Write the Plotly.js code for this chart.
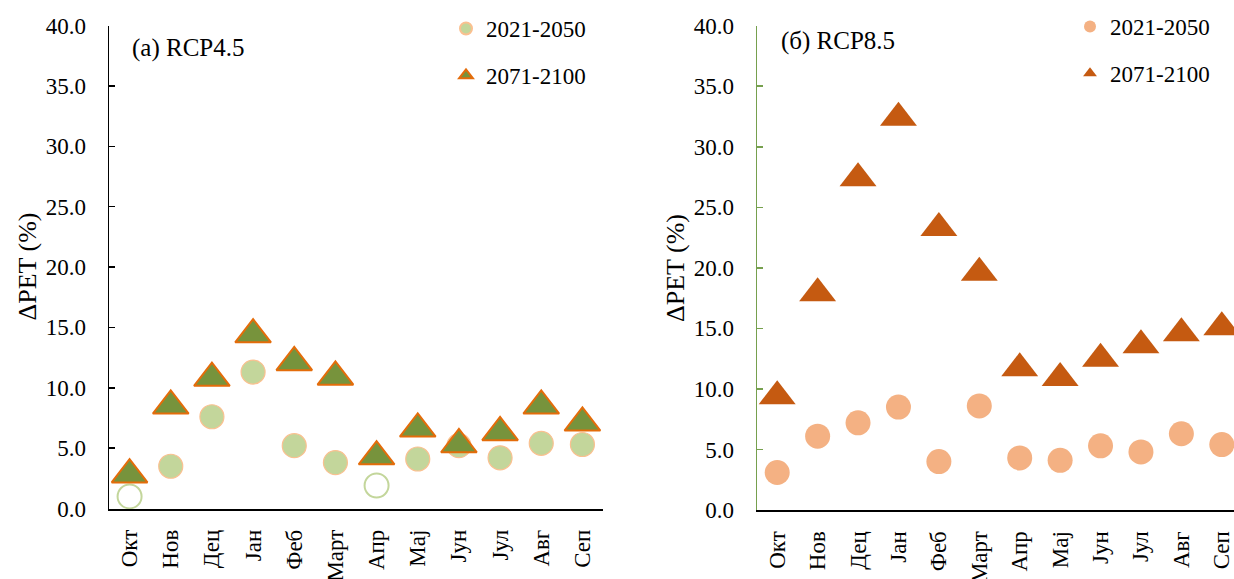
<!DOCTYPE html>
<html>
<head>
<meta charset="utf-8">
<script src="https://cdn.plot.ly/plotly-3.0.1.min.js"></script>
<style>
html, body { margin: 0; padding: 0; overflow: hidden; background: #fff; }
#chart { width: 1245px; height: 579px; }
</style>
</head>
<body>
<div id="chart"></div>
<script>
// ---- data ----
const months = ['Окт','Нов','Дец','Јан','Феб','Март','Апр','Мај','Јун','Јул','Авг','Сеп'];
const rcp45_2021_2050 = [1.0, 3.5, 7.6, 11.3, 5.2, 3.8, 1.9, 4.1, 5.2, 4.2, 5.4, 5.3];
const rcp45_2071_2100 = [2.8, 8.5, 10.8, 14.4, 12.1, 10.9, 4.3, 6.6, 5.3, 6.3, 8.5, 7.1];
const rcp85_2021_2050 = [3.1, 6.1, 7.2, 8.5, 4.0, 8.6, 4.3, 4.1, 5.3, 4.8, 6.3, 5.4];
const rcp85_2071_2100 = [9.4, 17.9, 27.4, 32.4, 23.3, 19.6, 11.7, 10.9, 12.5, 13.6, 14.6, 15.1];
const hollowMonths45 = ['Окт', 'Апр'];
const seriesNames = ['2021-2050', '2071-2100'];
const panelLabels = ['(a) RCP4.5', '(б) RCP8.5'];
const yTitle = 'ΔPET (%)';
const yTicks = [0, 5, 10, 15, 20, 25, 30, 35, 40];

// ---- layout helpers ----
const W = 1245, H = 579;
const FONT = 'Liberation Serif, Times New Roman, serif';
const px = v => v / W;
const py = v => 1 - v / H;

const filled45 = rcp45_2021_2050.map((v, i) => hollowMonths45.includes(months[i]) ? null : v);
const hollow45 = rcp45_2021_2050.map((v, i) => hollowMonths45.includes(months[i]) ? v : null);

const traces = [
  { type: 'scatter', mode: 'markers', x: months, y: filled45, name: seriesNames[0],
    xaxis: 'x', yaxis: 'y', legend: 'legend', legendgroup: 'a1', cliponaxis: false,
    marker: { symbol: 'circle', size: 24, color: '#C3D69B', line: { color: '#FAC090', width: 1.2 } } },
  { type: 'scatter', mode: 'markers', x: months, y: hollow45, name: seriesNames[0], showlegend: false,
    xaxis: 'x', yaxis: 'y', legendgroup: 'a1', cliponaxis: false,
    marker: { symbol: 'circle-open', size: 24, color: '#C3D69B', line: { color: '#C3D69B', width: 2 } } },
  { type: 'scatter', mode: 'markers', x: months, y: rcp45_2071_2100, name: seriesNames[1],
    xaxis: 'x', yaxis: 'y', legend: 'legend', legendgroup: 'a2', cliponaxis: false,
    marker: { symbol: 'triangle-up', size: 31, color: '#77933C', line: { color: '#E46C0A', width: 2 } } },
  { type: 'scatter', mode: 'markers', x: months, y: rcp85_2021_2050, name: seriesNames[0],
    xaxis: 'x2', yaxis: 'y2', legend: 'legend2', legendgroup: 'b1', cliponaxis: false,
    marker: { symbol: 'circle', size: 25, color: '#F4B183', line: { width: 0 } } },
  { type: 'scatter', mode: 'markers', x: months, y: rcp85_2071_2100, name: seriesNames[1],
    xaxis: 'x2', yaxis: 'y2', legend: 'legend2', legendgroup: 'b2', cliponaxis: false,
    marker: { symbol: 'triangle-up', size: 32, color: '#C55A11', line: { width: 0 } } }
];

function xAxis(domain, anchor) {
  return {
    domain: domain, anchor: anchor, type: 'category', range: [-0.5, 11.5],
    showgrid: false, zeroline: false, showline: true, linecolor: '#000', linewidth: 2,
    ticks: '', tickangle: -90, ticklabelstandoff: 10,
    tickfont: { family: FONT, size: 23, color: '#000' }, fixedrange: true
  };
}
function yAxis(domain, anchor, lineColor) {
  return {
    domain: domain, anchor: anchor, range: [0, 40], tickvals: yTicks, tickformat: '.1f',
    showgrid: false, zeroline: false, showline: true, linecolor: lineColor, linewidth: 1.5,
    ticks: 'inside', ticklen: 6, tickwidth: 1.5, tickcolor: lineColor, ticklabelstandoff: 17,
    tickfont: { family: FONT, size: 23, color: '#000' }, fixedrange: true
  };
}

const legendBase = {
  orientation: 'v', xanchor: 'left', yanchor: 'top', bgcolor: 'rgba(0,0,0,0)',
  font: { family: FONT, size: 23, color: '#000' }, itemsizing: 'constant',
  traceorder: 'grouped', tracegroupgap: 14
};

const layout = {
  width: W, height: H,
  margin: { l: 0, r: 0, t: 0, b: 0 },
  paper_bgcolor: '#fff', plot_bgcolor: '#fff',
  showlegend: true,
  xaxis: xAxis([px(109), px(603)], 'y'),
  yaxis: yAxis([py(508.5), py(25.5)], 'x', '#000'),
  xaxis2: xAxis([px(757), px(1242)], 'y2'),
  yaxis2: yAxis([py(510), py(25.7)], 'x2', '#76A04E'),
  legend: Object.assign({}, legendBase, { x: px(446), y: py(7) }),
  legend2: Object.assign({}, legendBase, { x: px(1070), y: py(5) }),
  annotations: [
    { text: panelLabels[0], xref: 'paper', yref: 'paper', x: px(130), y: py(48),
      xanchor: 'left', yanchor: 'middle', showarrow: false, font: { family: FONT, size: 25, color: '#000' } },
    { text: panelLabels[1], xref: 'paper', yref: 'paper', x: px(779), y: py(41),
      xanchor: 'left', yanchor: 'middle', showarrow: false, font: { family: FONT, size: 25, color: '#000' } },
    { text: yTitle, xref: 'paper', yref: 'paper', x: px(26.5), y: py(267), textangle: -90,
      xanchor: 'center', yanchor: 'middle', showarrow: false, font: { family: FONT, size: 26, color: '#000' } },
    { text: yTitle, xref: 'paper', yref: 'paper', x: px(676), y: py(268), textangle: -90,
      xanchor: 'center', yanchor: 'middle', showarrow: false, font: { family: FONT, size: 26, color: '#000' } }
  ]
};

Plotly.newPlot('chart', traces, layout, { staticPlot: true, displayModeBar: false });
</script>
</body>
</html>
